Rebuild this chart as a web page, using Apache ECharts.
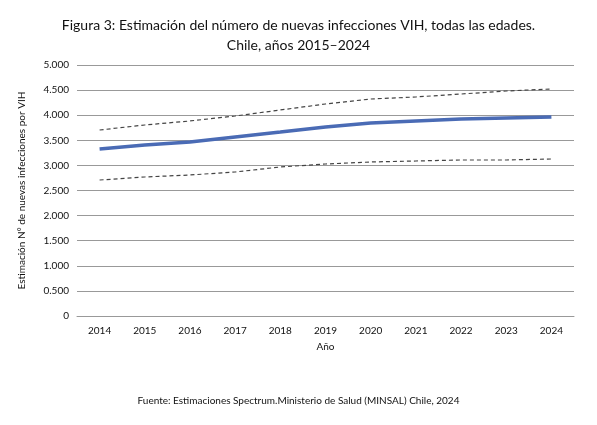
<!DOCTYPE html><html><head><meta charset="utf-8"><script src="https://cdn.jsdelivr.net/npm/echarts@6/dist/echarts.min.js"></script></head><body style="margin:0"><div id="c" style="width:597px;height:425px"></div><script>
const years=['2014','2015','2016','2017','2018','2019','2020','2021','2022','2023','2024'];
const estimate=[3327,3406,3466,3566,3665,3765,3845,3885,3924,3944,3964];
const upper=[3705,3805,3885,3984,4104,4223,4323,4363,4422,4482,4522];
const lower=[2709,2769,2809,2869,2968,3028,3068,3088,3108,3108,3128];
const F='Lato, "Open Sans", sans-serif';
const fmt=v=>v===0?'0':(v/1000).toFixed(3);
const ch=echarts.init(document.getElementById('c'));
const dash={type:'line',symbol:'none',lineStyle:{color:'#444',width:1.2,type:[4,3]},silent:true};
ch.setOption({animation:false,
title:[{text:'Figura 3: Estimación del número de nuevas infecciones VIH, todas las edades.\nChile, años 2015–2024',left:'center',top:10,textStyle:{fontFamily:F,fontSize:14,fontWeight:'normal',color:'#111',lineHeight:20,align:'center'}},
{text:'Fuente: Estimaciones Spectrum.Ministerio de Salud (MINSAL) Chile, 2024',left:'center',top:391,textStyle:{fontFamily:F,fontSize:10,fontWeight:'normal',color:'#111'}}],
grid:{left:77,right:23,top:65,bottom:109},
xAxis:{type:'category',data:years,name:'Año',nameLocation:'middle',nameGap:26,nameTextStyle:{fontFamily:F,fontSize:10,color:'#111'},axisTick:{show:false},axisLine:{lineStyle:{color:'#999'}},axisLabel:{fontFamily:F,fontSize:10,color:'#111',margin:10}},
yAxis:{type:'value',min:0,max:5000,interval:500,name:'Estimación N° de nuevas infecciones por VIH',nameLocation:'middle',nameGap:50,nameTextStyle:{fontFamily:F,fontSize:10,color:'#111'},axisLabel:{fontFamily:F,fontSize:10,color:'#111',formatter:fmt},splitLine:{lineStyle:{color:'#999'}}},
series:[Object.assign({data:upper},dash),Object.assign({data:lower},dash),{type:'line',data:estimate,symbol:'none',lineStyle:{color:'#4a6bb5',width:3.5}}]});
</script></body></html>
